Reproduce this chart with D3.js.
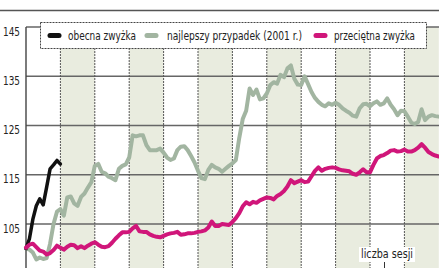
<!DOCTYPE html>
<html>
<head>
<meta charset="utf-8" />
<script src="https://cdn.jsdelivr.net/npm/d3@7"></script>
<style>
  body { margin: 0; background: #fff; }
  svg text { font-family: "Liberation Sans Narrow", "DejaVu Sans Condensed", sans-serif; fill: #222; }
</style>
</head>
<body>
<div id="chart"></div>
<script>
var width = 439, height = 268;

// values, one per session (index = session number)
var obecna = [100, 102, 106, 108.7, 110.1, 108.9, 112.5, 116.2, 117, 117.9, 117.2];

var najlepszy = [100, 99.8, 99.2, 97.8, 98.2, 97.9, 98.1, 101, 105, 107.5,
  108, 106.7, 110.4, 110.6, 109.2, 108.7, 110.5, 111.2, 112.4, 113.5,
  116.8, 117.2, 115.6, 115.3, 114.6, 114.3, 113.9, 116.2, 116.8, 117.1,
  118.5, 123, 122.8, 123, 123, 121, 120, 120, 120, 120.3,
  119.5, 118.5, 118, 118.3, 120, 120.7, 120.8, 120, 118.8, 117.5,
  115.8, 114.3, 114.1, 116, 117, 116.5, 116.2, 115.6, 116.2, 116.8,
  117.3, 118, 122.5, 126.3, 128, 132.5, 131.2, 132.3, 130.3, 130.5,
  131.5, 133.2, 133.8, 133.5, 135.3, 134.8, 136.6, 137.2, 134.5, 133.3,
  133.2, 135, 133.4, 131.8, 130.6, 129.8, 129.2, 128.9, 129.5, 129.2,
  129.6, 129.2, 128.5, 128, 127.6, 127, 126.8, 128.5, 129.3, 129.4,
  128.9, 129.5, 129.9, 129.2, 129.5, 130.5, 129.2, 128.3, 127.1, 128,
  127.9, 126.8, 125.6, 125.3, 125.7, 128.3, 126.1, 126.8, 127.1, 126.9, 126.8];

var przecietna = [100.2, 100.8, 101, 100.3, 99.6, 99.4, 98.8, 99.1, 99.7, 100.6,
  100.2, 99.8, 100.4, 100.8, 100.7, 100.1, 100.5, 100.1, 100.6, 101,
  101.3, 100.8, 100.4, 100.3, 100.5, 101.2, 102, 102.7, 103.3, 103.3,
  103.4, 104.1, 104.6, 103.5, 103.4, 103.4, 102.9, 102.6, 102.4, 102.3,
  102.6, 102.9, 103.1, 103.2, 103.4, 102.8, 102.9, 103.1, 103.1, 103.2,
  103.4, 103.5, 103.7, 104.3, 105.5, 104.6, 104.6, 105, 104.9, 104.8,
  105.4, 106.2, 107.2, 108.6, 109.4, 109, 109.5, 109.3, 109.8, 110.1,
  110.4, 110.3, 110, 110.7, 111.1, 111.7, 112.6, 113.9, 113.3, 113.6,
  113.9, 113.5, 113.6, 114.7, 115.8, 116.5, 115.8, 116.2, 116.4, 116.5,
  116.4, 116.1, 115.9, 115.8, 115.7, 115.2, 115, 115.5, 116.1, 115.5,
  115.5, 117, 118.3, 118.8, 119, 119.4, 119.9, 120, 119.7, 119.8,
  120.1, 119.7, 119.7, 120, 120.5, 121.2, 120.5, 119.6, 119.2, 118.9, 118.7];

var yTicks = [105, 115, 125, 135, 145];
var xTicks = [10, 20, 30, 40, 50, 60, 70, 80, 90, 100, 110];
var bands = [10, 30, 50, 70, 90, 110];

var seriesNames = ["obecna zwyżka", "najlepszy przypadek (2001 r.)", "przeciętna zwyżka"];
var seriesColors = ["#111111", "#a2b5a1", "#d0167a"];

var svg = d3.select("#chart").append("svg")
  .attr("width", width)
  .attr("height", height);

var x = d3.scaleLinear().domain([0, 120]).range([26, 438.8]);
var y = d3.scaleLinear().domain([105, 145]).range([224, 27]);

// shaded columns
svg.selectAll(".band")
  .data(bands)
  .enter()
  .append("rect")
    .attr("class", "band")
    .attr("x", function(d) { return x(d); })
    .attr("y", y(145))
    .attr("width", x(10) - x(0))
    .attr("height", height - y(145))
    .attr("fill", "#e9ecdf");

// top rule
svg.append("line")
  .attr("x1", 0).attr("x2", width)
  .attr("y1", 10.5).attr("y2", 10.5)
  .attr("stroke", "#555")
  .attr("stroke-width", 1.5);

// horizontal grid
svg.selectAll(".grid")
  .data(yTicks)
  .enter()
  .append("line")
    .attr("class", "grid")
    .attr("x1", x(0)).attr("x2", width)
    .attr("y1", function(d) { return y(d); })
    .attr("y2", function(d) { return y(d); })
    .attr("stroke", "#666")
    .attr("stroke-width", 1.4);

// dotted verticals
svg.selectAll(".vgrid")
  .data(xTicks)
  .enter()
  .append("line")
    .attr("class", "vgrid")
    .attr("x1", function(d) { return x(d); })
    .attr("x2", function(d) { return x(d); })
    .attr("y1", y(145)).attr("y2", height)
    .attr("stroke", "#555")
    .attr("stroke-width", 1)
    .attr("stroke-dasharray", "2,1");

// y axis line
svg.append("line")
  .attr("x1", x(0)).attr("x2", x(0))
  .attr("y1", y(145)).attr("y2", height)
  .attr("stroke", "#444")
  .attr("stroke-width", 1.4);

svg.selectAll(".ylab")
  .data(yTicks)
  .enter()
  .append("text")
    .attr("class", "ylab")
    .attr("x", 3)
    .attr("y", function(d) { return y(d) + 8.5; })
    .attr("font-size", 12)
    .attr("textLength", 17)
    .attr("lengthAdjust", "spacingAndGlyphs")
    .text(function(d) { return d; });

// lines
var line = d3.line()
  .x(function(d, i) { return x(i); })
  .y(function(d) { return y(d); })
  .curve(d3.curveLinear);

var order = [1, 0, 2];
var allData = [obecna, najlepszy, przecietna];
order.forEach(function(k) {
  svg.append("path")
    .datum(allData[k])
    .attr("d", line)
    .attr("fill", "none")
    .attr("stroke", seriesColors[k])
    .attr("stroke-width", k === 0 ? 3.5 : 4)
    .attr("stroke-linejoin", "round")
    .attr("stroke-linecap", "round");
});

// legend
var legend = svg.append("g");
legend.append("rect")
  .attr("x", 40.5).attr("y", 22.5)
  .attr("width", 386).attr("height", 26)
  .attr("fill", "#fff")
  .attr("stroke", "#444")
  .attr("stroke-width", 1)
  .attr("stroke-dasharray", "2,1");

var legX = [48, 145, 314];
var legTextX = [68, 167, 334];
var legTextW = [68, 135, 81];
seriesNames.forEach(function(name, i) {
  legend.append("line")
    .attr("x1", legX[i] + 2).attr("x2", legX[i] + 11)
    .attr("y1", 35.5).attr("y2", 35.5)
    .attr("stroke", seriesColors[i])
    .attr("stroke-width", 5)
    .attr("stroke-linecap", "round");
  legend.append("text")
    .attr("x", legTextX[i])
    .attr("y", 40)
    .attr("font-size", 12.5)
    .attr("textLength", legTextW[i])
    .attr("lengthAdjust", "spacingAndGlyphs")
    .text(name);
});

// axis caption
svg.append("rect")
  .attr("x", 359).attr("y", 247)
  .attr("width", 56).attr("height", 15)
  .attr("fill", "#fff");
svg.append("text")
  .attr("x", 361)
  .attr("y", 258)
  .attr("font-size", 12.5)
  .attr("textLength", 52)
  .attr("lengthAdjust", "spacingAndGlyphs")
  .text("liczba sesji");
svg.append("line")
  .attr("x1", 384.5).attr("x2", 384.5)
  .attr("y1", 262).attr("y2", height)
  .attr("stroke", "#333")
  .attr("stroke-width", 1);
</script>
</body>
</html>
